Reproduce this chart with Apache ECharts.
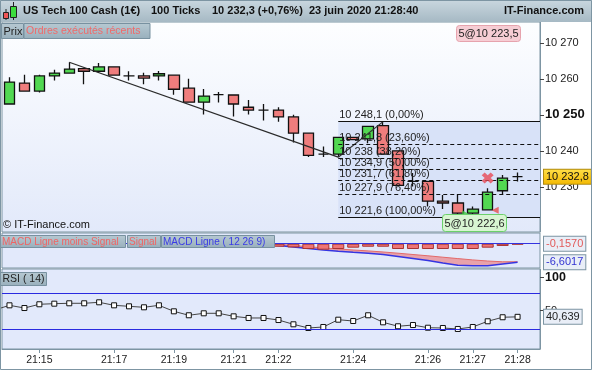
<!DOCTYPE html>
<html>
<head>
<meta charset="utf-8">
<script src="https://cdn.jsdelivr.net/npm/echarts@6/dist/echarts.min.js"></script>
<style>
html,body{margin:0;padding:0;background:#ffffff;}
#chart{width:592px;height:370px;}
</style>
</head>
<body>
<div id="chart"></div>
<script>
// ================= DATA =================
const timeLabels = ['', '', '21:15', '', '', '', '', '21:17', '', '', '', '21:19', '', '', '', '21:21', '', '', '21:22', '', '', '', '', '21:24', '', '', '', '', '21:26', '', '', '21:27', '', '', '21:28', ''];

const candleOpen  = [10253.0, 10258.8, 10256.6, 10260.8, 10261.6, 10262.8, 10262.1, 10263.3, 10260.8, 10260.8, 10260.8, 10261.0, 10257.4, 10253.5, 10255.6, 10255.5, 10252.1, 10251.3, 10251.3, 10249.4, 10244.9, 10239.1, 10239.1, 10243.7, 10243.3, 10247.0, 10240.0, 10231.5, 10231.5, 10226.0, 10225.5, 10222.7, 10223.6, 10228.9, 10232.8];
const candleClose = [10259.1, 10256.6, 10260.8, 10261.6, 10262.7, 10262.1, 10263.3, 10261.0, 10260.8, 10260.2, 10261.4, 10257.1, 10253.5, 10255.2, 10255.6, 10253.0, 10251.3, 10251.3, 10249.4, 10244.9, 10238.7, 10239.1, 10243.7, 10243.1, 10246.8, 10239.1, 10230.4, 10231.5, 10226.0, 10225.5, 10222.7, 10223.8, 10228.5, 10232.4, 10232.8];
const candleLow   = [10253.0, 10256.6, 10256.2, 10259.5, 10261.6, 10258.5, 10261.6, 10261.0, 10259.5, 10258.5, 10259.5, 10255.6, 10253.5, 10250.1, 10253.4, 10249.5, 10250.1, 10248.4, 10248.1, 10242.3, 10238.3, 10238.3, 10238.2, 10243.1, 10242.1, 10239.1, 10230.4, 10230.1, 10224.5, 10223.8, 10222.2, 10221.6, 10223.6, 10227.8, 10231.5];
const candleHigh  = [10260.4, 10261.1, 10261.1, 10262.5, 10264.6, 10262.8, 10264.4, 10263.3, 10262.1, 10261.7, 10262.2, 10261.0, 10260.0, 10257.2, 10256.3, 10255.5, 10254.1, 10253.0, 10252.1, 10250.0, 10244.9, 10241.2, 10243.9, 10243.7, 10246.8, 10248.1, 10240.0, 10233.8, 10231.5, 10227.7, 10228.0, 10224.5, 10229.6, 10233.3, 10234.0];

const priceTicks = [10230, 10240, 10250, 10260, 10270];
const lastPrice = 10232.8;

const trendLine = [[4, 10264.6], [22, 10238.25]];
const fibSwing  = [[22, 10238.2], [25, 10248.1]];
const fibLevels   = [10248.1, 10241.8, 10238.0, 10234.9, 10231.7, 10227.9, 10221.6];
const fibPercents = ['0,00', '23,60', '38,20', '50,00', '61,80', '76,40', '100,00'];

const crossMark = [[32, 10232.45]];
const sellOrder = [[32.5, 10223.5]];
const buyOrder  = [[30.5, 10222.6]];
const orderTexts = ['5@10 223,5', '5@10 222,6'];

const macdLine   = [null, null, null, null, null, null, null, null, null, null, null, null, null, null, null, null, null, -0.18, -0.64, -1.18, -1.71, -2.25, -2.68, -3.07, -3.39, -3.89, -4.54, -5.25, -6.04, -6.89, -7.71, -7.89, -7.89, -7.25, -6.6017];
const macdSignal = [null, null, null, null, null, null, null, null, null, null, null, null, null, null, null, null, null, 0.0, -0.21, -0.64, -1.07, -1.5, -1.89, -2.25, -2.57, -2.96, -3.39, -3.86, -4.32, -4.82, -5.32, -5.79, -6.18, -6.46, -6.4447];
const macdHist   = [null, null, null, null, null, null, null, null, null, null, null, null, null, null, null, null, null, null, -0.57, -0.7, -1.0, -1.13, -1.0, -0.75, -0.57, -0.57, -1.0, -1.0, -1.0, -1.0, -1.0, -1.0, -0.75, -0.43, -0.157];

const rsiPrev   = 51.0;
const rsiValues = [58.1, 54.0, 59.7, 60.6, 61.2, 61.2, 62.7, 58.1, 56.6, 55.1, 58.1, 49.0, 43.0, 46.0, 46.0, 41.4, 38.9, 38.9, 35.8, 29.3, 23.7, 25.2, 36.3, 34.3, 43.0, 32.3, 26.3, 28.2, 24.1, 23.7, 22.2, 25.2, 33.9, 40.0, 40.639];
const rsiBands  = [76.4, 21.7];
const rsiTicks  = [50, 100];

// ================= BUILD =================
const FONT = '"Liberation Sans", Arial, Helvetica, sans-serif';
const chart = echarts.init(document.getElementById('chart'), null, {renderer: 'canvas'});

function fmtNum(v, decimals) {
  let s = decimals == null ? String(Math.round(v * 10) / 10) : v.toFixed(decimals);
  let parts = s.split('.');
  let ip = parts[0], dp = parts[1];
  const neg = ip.charAt(0) === '-';
  if (neg) ip = ip.slice(1);
  ip = ip.replace(/\B(?=(\d{3})+(?!\d))/g, ' ');
  return (neg ? '-' : '') + ip + (dp ? ',' + dp : '');
}

const candles = candleOpen.map((o, i) => [o, candleClose[i], candleLow[i], candleHigh[i]]);
const macdFill = macdSignal.map((s, i) => (s == null || macdLine[i] == null) ? null : +(s - macdLine[i]).toFixed(4));
const rsiData = [[-1, rsiPrev]].concat(rsiValues.map((v, i) => [i, v]));
const lastIdx = candles.length - 1;

const labelIdx = (i) => timeLabels[i] !== '';
const borderCol = '#7d95a3';

function box(x, y, w, h, text, color, opt) {
  opt = opt || {};
  return {
    type: 'group', z: 100,
    children: [
      {type: 'rect', z: 100, shape: {x: x, y: y, width: w, height: h, r: opt.r || 0},
       style: {fill: opt.fill || '#a7bbc6', stroke: opt.stroke || '#7891a0', lineWidth: 1}},
      {type: 'text', z: 101, x: opt.center ? x + w / 2 : x + (opt.pad == null ? 2 : opt.pad), y: y + h / 2 + 0.5,
       style: {text: text, fill: color, font: (opt.font || '11px') + ' ' + FONT,
               align: opt.center ? 'center' : 'left', verticalAlign: 'middle',
               textAlign: opt.center ? 'center' : 'left', textVerticalAlign: 'middle'}}
    ]
  };
}
function txt(x, y, text, font, color, align) {
  return {type: 'text', z: 101, x: x, y: y,
    style: {text: text, fill: color, font: font + ' ' + FONT, align: align || 'left', verticalAlign: 'middle',
            textAlign: align || 'left', textVerticalAlign: 'middle'}};
}

const headerGrad = new echarts.graphic.LinearGradient(0, 0, 0, 1, [
  {offset: 0, color: '#c9d7df'}, {offset: 1, color: '#a6b9c4'}]);
const tabGrad = new echarts.graphic.LinearGradient(0, 0, 0, 1, [
  {offset: 0, color: '#b7c9d2'}, {offset: 1, color: '#98afbc'}]);
const priceBg = new echarts.graphic.LinearGradient(0, 0, 0, 1, [
  {offset: 0, color: '#fdfeff'}, {offset: 1, color: '#e2e9fa'}]);

const markerLabel = (text, color, fill) => ({
  show: true, position: 'end', distance: 4, formatter: text, color: color,
  fontSize: 11, fontFamily: FONT, backgroundColor: fill, borderColor: '#7d95a3', borderWidth: 1,
  padding: [2, 2, 1, 2]
});

const option = {
  animation: false,
  backgroundColor: '#ffffff',
  textStyle: {fontFamily: FONT},
  grid: [
    {left: 2, right: 52, top: 22, height: 210, show: true, backgroundColor: priceBg, borderColor: borderCol, borderWidth: 1, outerBoundsMode: 'none', containLabel: false},
    {left: 2, right: 52, top: 233, height: 35, show: true, backgroundColor: '#e2e9fb', borderColor: borderCol, borderWidth: 1, outerBoundsMode: 'none', containLabel: false},
    {left: 2, right: 52, top: 269, height: 80, show: true, backgroundColor: '#e2e9fb', borderColor: borderCol, borderWidth: 1, outerBoundsMode: 'none', containLabel: false}
  ],
  xAxis: [
    {type: 'category', gridIndex: 0, data: timeLabels, show: false},
    {type: 'value', gridIndex: 0, min: -0.5, max: 35.5, show: false},
    {type: 'category', gridIndex: 1, data: timeLabels, show: false},
    {type: 'category', gridIndex: 2, data: timeLabels,
      axisLine: {show: true, onZero: false, lineStyle: {color: borderCol}},
      axisTick: {show: true, interval: labelIdx, alignWithLabel: true, length: 4, lineStyle: {color: borderCol}},
      axisLabel: {interval: labelIdx, fontSize: 10.5, color: '#222', margin: 6, fontFamily: FONT},
      splitLine: {show: false}},
    {type: 'value', gridIndex: 2, min: -0.5, max: 35.5, show: false}
  ],
  yAxis: [
    {type: 'value', gridIndex: 0, position: 'right', min: 10217.44, max: 10275.78, scale: true,
      axisLine: {show: true, onZero: false, lineStyle: {color: borderCol}},
      axisTick: {show: true, inside: false, length: 4, customValues: priceTicks, lineStyle: {color: '#444'}},
      axisLabel: {customValues: priceTicks, margin: 5, color: '#222', fontSize: 11, fontFamily: FONT,
        formatter: v => v === 10250 ? '{b|' + fmtNum(v) + '}' : fmtNum(v),
        rich: {b: {fontWeight: 'bold', fontSize: 13, color: '#111', fontFamily: FONT}}},
      splitLine: {show: false}},
    {type: 'value', gridIndex: 1, min: -8.68, max: 3.82, show: false, axisLine: {onZero: false}, splitLine: {show: false}},
    {type: 'value', gridIndex: 1, min: -4.585, max: 2.02, show: false, axisLine: {onZero: false}, splitLine: {show: false}},
    {type: 'value', gridIndex: 2, position: 'right', min: -8.2, max: 113.25,
      axisLine: {show: true, onZero: false, lineStyle: {color: borderCol}},
      axisTick: {show: true, inside: false, length: 4, customValues: rsiTicks, lineStyle: {color: '#444'}},
      axisLabel: {customValues: rsiTicks, margin: 5, color: '#222', fontSize: 11, fontFamily: FONT,
        formatter: v => v === 100 ? '{b|100}' : String(v),
        rich: {b: {fontWeight: 'bold', fontSize: 12.5, color: '#111', fontFamily: FONT}}},
      splitLine: {show: false}}
  ],
  series: [
    // fib shading (behind candles)
    {type: 'line', xAxisIndex: 1, yAxisIndex: 0, data: fibSwing, symbol: 'none', silent: true, z: 1,
      lineStyle: {opacity: 0},
      markArea: {silent: true, itemStyle: {color: '#d8e2f8'},
        data: [[{coord: [fibSwing[0][0], fibLevels[0]]}, {coord: [35.5, fibLevels[fibLevels.length - 1]]}]]}},
    // candles
    {type: 'candlestick', xAxisIndex: 0, yAxisIndex: 0, data: candles, barWidth: 11, z: 2,
      itemStyle: {color: '#52d852', color0: '#ef7d7d', borderColor: '#111', borderColor0: '#111', borderColorDoji: '#111', borderWidth: 1.3},
      markLine: {silent: true, symbol: ['none', 'none'],
        data: [{yAxis: lastPrice, lineStyle: {color: 'transparent', width: 0},
          label: Object.assign(markerLabel(fmtNum(lastPrice), '#111',
            new echarts.graphic.LinearGradient(0, 0, 0, 1, [{offset: 0, color: '#ffe04a'}, {offset: 1, color: '#f3b800'}])),
            {borderColor: '#b08a10'})}]}},
    // fib swing line + fib levels
    {type: 'line', xAxisIndex: 1, yAxisIndex: 0, data: fibSwing, symbol: 'none', z: 4, silent: true,
      lineStyle: {color: '#333', width: 1.2},
      markLine: {silent: true, symbol: ['none', 'none'],
        data: fibLevels.map((lvl, k) => {
          const ls = {color: '#111', width: 1, type: (k === 0 || k === fibLevels.length - 1) ? 'solid' : [4, 3]};
          const lb = {show: true, position: 'insideStartTop', distance: 1, color: '#222', fontSize: 11, fontFamily: FONT,
                      formatter: fmtNum(lvl) + ' (' + fibPercents[k] + '%)'};
          return [{coord: [fibSwing[0][0], lvl], lineStyle: ls, label: lb}, {coord: [35.5, lvl], lineStyle: ls, label: lb}];
        })}},
    // trend line
    {type: 'line', xAxisIndex: 1, yAxisIndex: 0, data: trendLine, symbol: 'none', z: 4, silent: true,
      lineStyle: {color: '#2a2a2a', width: 1.3}},
    // executed-order markers
    {type: 'scatter', xAxisIndex: 1, yAxisIndex: 0, data: crossMark, z: 5, silent: true,
      symbol: 'path://M0,2.5 L2.5,0 L5,2.5 L7.5,0 L10,2.5 L7.5,5 L10,7.5 L7.5,10 L5,7.5 L2.5,10 L0,7.5 L2.5,5 Z',
      symbolSize: [12, 11], itemStyle: {color: '#e84a55'}},
    {type: 'scatter', xAxisIndex: 1, yAxisIndex: 0, data: sellOrder, z: 5, silent: true,
      symbol: 'triangle', symbolRotate: 90, symbolSize: 7, itemStyle: {color: '#e64e4e'}},
    {type: 'scatter', xAxisIndex: 1, yAxisIndex: 0, data: buyOrder, z: 5, silent: true,
      symbol: 'triangle', symbolRotate: -90, symbolSize: 6, itemStyle: {color: '#3cc83c'}},
    // MACD histogram with zero line
    {type: 'bar', xAxisIndex: 2, yAxisIndex: 2, data: macdHist, barWidth: 12, z: 4, silent: true,
      itemStyle: {color: '#ef7575', borderColor: '#a83434', borderWidth: 1},
      markLine: {silent: true, symbol: ['none', 'none'],
        data: [{yAxis: 0, lineStyle: {color: '#3434e0', width: 1, type: 'solid'},
          label: markerLabel(fmtNum(macdHist[lastIdx], 4), '#e25a5a', '#e9eef7')}]}},
    // MACD line (blue)
    {type: 'line', xAxisIndex: 2, yAxisIndex: 1, data: macdLine, stack: 'macd', stackStrategy: 'all',
      symbol: 'none', z: 3, silent: true, lineStyle: {color: '#3535e2', width: 1.5},
      markLine: {silent: true, symbol: ['none', 'none'],
        data: [{yAxis: macdLine[lastIdx], lineStyle: {color: 'transparent', width: 0},
          label: markerLabel(fmtNum(macdLine[lastIdx], 4), '#3232d2', '#e9eef7')}]}},
    // Signal line (red) with fill between
    {type: 'line', xAxisIndex: 2, yAxisIndex: 1, data: macdFill, stack: 'macd', stackStrategy: 'all',
      symbol: 'none', z: 2, silent: true, lineStyle: {color: '#e26a6a', width: 1},
      areaStyle: {color: '#e8a2ab', opacity: 1}},
    // RSI
    {type: 'line', xAxisIndex: 4, yAxisIndex: 3, data: rsiData, symbol: 'rect', symbolSize: 5, showAllSymbol: true,
      z: 4, silent: true, clip: true,
      itemStyle: {color: '#ffffff', borderColor: '#111', borderWidth: 1},
      lineStyle: {color: '#444', width: 1},
      markLine: {silent: true, symbol: ['none', 'none'],
        data: [
          {yAxis: rsiBands[0], lineStyle: {color: '#2a2ae0', width: 1, type: 'solid'}, label: {show: false}},
          {yAxis: rsiBands[1], lineStyle: {color: '#2a2ae0', width: 1, type: 'solid'}, label: {show: false}},
          {yAxis: rsiValues[lastIdx], lineStyle: {color: 'transparent', width: 0},
            label: markerLabel(fmtNum(rsiValues[lastIdx], 3), '#222', '#e9eef7')}
        ]}}
  ],
  graphic: [
    {type: 'rect', z: 100, shape: {x: 0, y: 0, width: 592, height: 22}, style: {fill: headerGrad}},
    {type: 'line', z: 101, shape: {x1: 6, y1: 9, x2: 6, y2: 20}, style: {stroke: '#222', lineWidth: 1}},
    {type: 'rect', z: 102, shape: {x: 3.5, y: 12.5, width: 5, height: 6}, style: {fill: '#ee5555', stroke: '#222', lineWidth: 1}},
    {type: 'line', z: 101, shape: {x1: 13.5, y1: 2, x2: 13.5, y2: 20}, style: {stroke: '#222', lineWidth: 1}},
    {type: 'rect', z: 102, shape: {x: 10.5, y: 6.5, width: 6, height: 11}, style: {fill: '#3ddc3d', stroke: '#222', lineWidth: 1}},
    txt(23, 11, 'US Tech 100 Cash (1€)', 'bold 11px', '#111'),
    txt(151, 11, '100 Ticks', 'bold 11px', '#111'),
    txt(212, 11, '10 232,3 (+0,76%)', 'bold 11px', '#111'),
    txt(309, 11, '23 juin 2020 21:28:40', 'bold 11px', '#111'),
    txt(584, 11, 'IT-Finance.com', 'bold 11px', '#111', 'right'),
    box(1.5, 23.5, 22, 15, 'Prix', '#222', {fill: tabGrad}),
    box(24, 23.5, 126, 15, 'Ordres exécutés récents', '#f06a6a', {fill: tabGrad, font: '10.5px'}),
    box(456.5, 25.5, 64, 16, orderTexts[0], '#222', {fill: '#f6cdd4', stroke: '#e6a3ad', r: 3, center: true}),
    box(442.5, 214.5, 64, 17, orderTexts[1], '#222', {fill: '#d8f5d2', stroke: '#6bd06b', r: 3, center: true}),
    txt(3, 225, '© IT-Finance.com', '11px', '#111'),
    box(0.5, 235.5, 125, 12, 'MACD Ligne moins Signal', '#f06464', {fill: tabGrad, font: '10px', pad: 1.5}),
    box(127.5, 235.5, 33, 12, 'Signal', '#f06464', {fill: tabGrad, font: '10px', pad: 1.5}),
    box(161.5, 235.5, 113, 12, 'MACD Ligne ( 12 26 9)', '#3a3ae6', {fill: tabGrad, font: '10px', pad: 1.5}),
    box(0.5, 272.5, 46, 13, 'RSI ( 14)', '#222', {fill: tabGrad, font: '10.5px'}),
    {type: 'rect', z: 110, shape: {x: 0.5, y: 0.5, width: 591, height: 369}, style: {fill: 'none', stroke: borderCol, lineWidth: 1}}
  ]
};
chart.setOption(option);
</script>
</body>
</html>
